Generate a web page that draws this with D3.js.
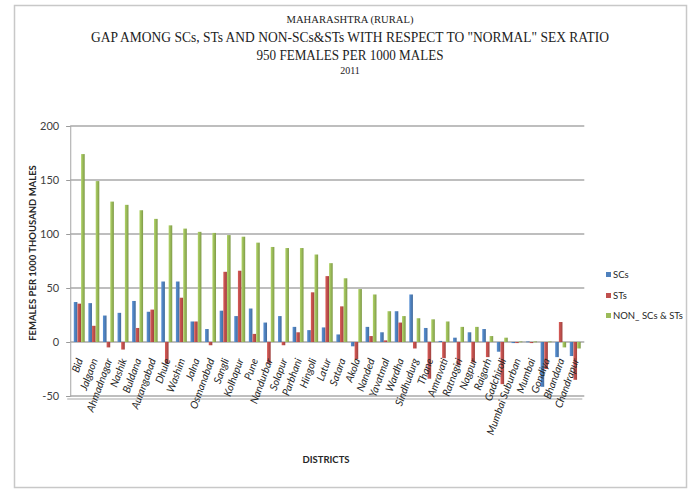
<!DOCTYPE html>
<html>
<head>
<meta charset="utf-8">
<script src="https://cdn.jsdelivr.net/npm/d3@7"></script>
<style>
  html, body { margin: 0; padding: 0; background: #fff; }
  svg { display: block; }
</style>
</head>
<body>
<svg id="chart" width="692" height="490"></svg>
<script>
// Districts of rural Maharashtra, 2011
const districts = ["Bid","Jalgaon","Ahmadnagar","Nashik","Buldana","Aurangabad","Dhule","Washim","Jalna","Osmanabad",
  "Sangli","Kolhapur","Pune","Nandurbar","Solapur","Parbhani","Hingoli","Latur","Satara","Akola",
  "Nanded","Yavatmal","Wardha","Sindhudurg","Thane","Amravati","Ratnagiri","Nagpur","Raigarh","Gadchiroli",
  "Mumbai Suburban","Mumbai","Gondiya","Bhandara","Chandrapur"];

// Gap (females per 1000 males) from the normal ratio of 950
const scValues = [37,36,24.5,27,38,28,56,56,19,12,
  29,24,31,18,24,14,11,13.5,7,-4,
  14,9,28.5,44,13,1,4,9,12,-9,
  -1,0.5,-41.5,-14,-13];
const stValues = [35.5,15,-5,-7,13,30,-20,41,19,-3,
  65,66,7.5,-20,-3,9,46,61,33,-16,
  5.5,1.5,18,-6,-34,-15,-21.5,-19,-14,-39,
  -1,-1,-25,18.5,-35];
const nonValues = [174,149,130,127,122,114,108,105,102,101,
  99,97.5,92,88,87,87,81,73,59,49,
  44,28.5,24,22,21,19,14,14,5.5,4,
  0.5,0.5,0.5,-5,-6];

const seriesNames = ["SCs","STs","NON_ SCs & STs"];
const seriesValues = [scValues, stValues, nonValues];
const seriesColors = ["#4f81bd","#c0504d","#9bbb59"];
const yTicks = [-50,0,50,100,150,200];

const titleLines = ["MAHARASHTRA (RURAL)",
  "GAP AMONG SCs, STs AND NON-SCs&STs WITH RESPECT TO \"NORMAL\" SEX RATIO",
  "950 FEMALES PER 1000 MALES",
  "2011"];

const svg = d3.select("#chart");

// outer chart border
svg.append("rect").attr("x",14.5).attr("y",5.5).attr("width",672).attr("height",482)
  .attr("fill","#fff").attr("stroke","#c8c8c8").attr("stroke-width",1.5);

const plot = {left:70.2, right:584.3, top:126, bottom:396};

const y = d3.scaleLinear().domain([-50,200]).range([plot.bottom, plot.top]);
const x0 = d3.scaleBand().domain(districts).range([plot.left, plot.right]).padding(0.24);
const x1 = d3.scaleBand().domain(seriesNames).range([0, x0.bandwidth()]).padding(0.02);

// gradients giving the columns a rounded 3-D shading
const defs = svg.append("defs");
seriesColors.forEach((c,i) => {
  const g = defs.append("linearGradient").attr("id","grad"+i).attr("x1","0").attr("x2","1").attr("y1","0").attr("y2","0");
  const base = d3.color(c);
  g.append("stop").attr("offset","0%").attr("stop-color", base.brighter(0.35));
  g.append("stop").attr("offset","45%").attr("stop-color", base);
  g.append("stop").attr("offset","100%").attr("stop-color", base.darker(0.55));
});

// y axis with gridlines
const yAxis = d3.axisLeft(y).tickValues(yTicks).tickSize(4).tickPadding(7).tickFormat(d => String(d));
const ya = svg.append("g").attr("transform",`translate(${plot.left},0)`).call(yAxis);
ya.select(".domain").attr("stroke","#b4b4b4").attr("stroke-width",1.2);
ya.selectAll(".tick line").attr("stroke","#9a9a9a");
ya.selectAll(".tick text").attr("font-family","Lato, 'Open Sans', sans-serif").attr("font-size",11).attr("fill","#404040");

const grid = svg.append("g");
grid.selectAll("line.grid").data(yTicks).join("line")
  .attr("x1",plot.left).attr("x2",plot.right)
  .attr("y1",d=>y(d)).attr("y2",d=>y(d))
  .attr("stroke","#a8a8a8").attr("stroke-width",1.6);
// floor edge
grid.append("line").attr("x1",plot.left-3).attr("x2",plot.right-2)
  .attr("y1",y(-50)+3).attr("y2",y(-50)+3).attr("stroke","#c4c4c4").attr("stroke-width",1.3);

// columns
const groups = svg.append("g").selectAll("g").data(districts).join("g")
  .attr("transform", d => `translate(${x0(d)},0)`);
groups.selectAll("rect").data((d,i) => seriesNames.map((s,k) => ({s, k, v: seriesValues[k][i]})))
  .join("rect")
  .attr("x", d => x1(d.s))
  .attr("width", x1.bandwidth())
  .attr("y", d => y(Math.max(0,d.v)))
  .attr("height", d => Math.max(0.8, Math.abs(y(d.v)-y(0))))
  .attr("fill", d => `url(#grad${d.k})`);

// category labels
svg.append("g").selectAll("text").data(districts).join("text")
  .attr("transform", d => `translate(${x0(d)+x0.bandwidth()/2+4},${y(0)+18}) rotate(-70)`)
  .attr("text-anchor","end")
  .attr("font-family","Lato, 'Open Sans', sans-serif")
  .attr("font-style","italic")
  .attr("font-size",10.5)
  .attr("fill","#262626")
  .text(d => d);

// titles
const tf = "'Liberation Serif', 'Times New Roman', serif";
const titleSpec = [
  {y:23, size:10.5, len:127},
  {y:42, size:14.5, len:518},
  {y:59.5, size:14.5, len:187},
  {y:73.5, size:10, len:null}
];
titleSpec.forEach((t,i) => {
  const tx = svg.append("text").attr("x",350).attr("y",t.y).attr("text-anchor","middle")
    .attr("font-family",tf).attr("font-size",t.size).attr("fill","#222").text(titleLines[i]);
  if (t.len) tx.attr("textLength",t.len).attr("lengthAdjust","spacingAndGlyphs");
});

// axis titles
svg.append("text").attr("transform","translate(36,253) rotate(-90)").attr("text-anchor","middle")
  .attr("font-family","Lato, 'Open Sans', sans-serif").attr("font-weight","bold").attr("font-size",9.5)
  .attr("fill","#262626").text("FEMALES PER 1000 THOUSAND MALES");
svg.append("text").attr("x",326).attr("y",463).attr("text-anchor","middle")
  .attr("font-family","Lato, 'Open Sans', sans-serif").attr("font-weight","bold").attr("font-size",9.5)
  .attr("fill","#262626").text("DISTRICTS");

// legend
const legend = svg.append("g");
const legendY = [275, 296, 316];
seriesNames.forEach((s,i) => {
  legend.append("rect").attr("x",606).attr("y",legendY[i]-3).attr("width",5).attr("height",5).attr("fill",seriesColors[i]);
  legend.append("text").attr("x",613).attr("y",legendY[i]+3)
    .attr("font-family","Lato, 'Open Sans', sans-serif").attr("font-size",9.5).attr("fill","#262626").text(s);
});
</script>
</body>
</html>
